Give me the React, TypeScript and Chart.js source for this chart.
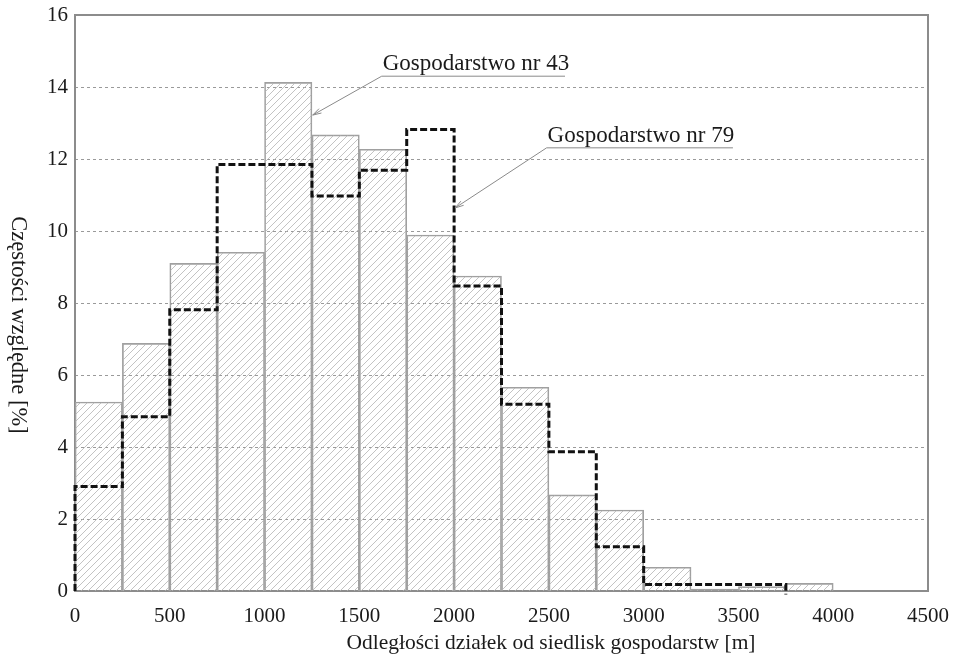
import React, { useEffect, useRef } from "react";
import { Chart, registerables } from "chart.js";

Chart.register(...registerables);

// Bin edges (m) and relative frequencies (%)
const binStarts = [0, 250, 500, 750, 1000, 1250, 1500, 1750, 2000, 2250, 2500, 2750, 3000, 3250, 3500, 3750];
const binWidth = 250;
const farm43 = [5.25, 6.88, 9.1, 9.41, 14.13, 12.67, 12.27, 9.89, 8.75, 5.66, 2.67, 2.25, 0.66, 0.05, 0.12, 0.21];
const farm79 = [2.9, 4.84, 7.81, 11.85, 11.85, 10.97, 11.69, 12.82, 8.47, 5.19, 3.87, 1.23, 0.18, 0.18, 0.18];
const yTicks = [0, 2, 4, 6, 8, 10, 12, 14, 16];
const xTicks = [0, 500, 1000, 1500, 2000, 2500, 3000, 3500, 4000, 4500];

const label43 = "Gospodarstwo nr 43";
const label79 = "Gospodarstwo nr 79";
const xTitle = "Odległości działek od siedlisk gospodarstw [m]";
const yTitle = "Częstości względne [%]";

// annotation anchors in data coordinates: [underlineStartX, underlineEndX, underlineY, arrowTipX, arrowTipY]
const ann43 = [1618, 2585, 14.3, 1254, 13.22];
const ann79 = [2488, 3471, 12.31, 2005, 10.64];

const SERIF = "'Liberation Serif', 'Times New Roman', serif";

function makeHatch(): CanvasPattern | string {
  const s = 7;
  const c = document.createElement("canvas");
  c.width = s;
  c.height = s;
  const g = c.getContext("2d");
  if (!g) return "rgba(0,0,0,0)";
  g.strokeStyle = "#b4b4b4";
  g.lineWidth = 0.8;
  g.beginPath();
  g.moveTo(-1, s + 1);
  g.lineTo(s + 1, -1);
  g.moveTo(-1, 1);
  g.lineTo(1, -1);
  g.moveTo(s - 1, s + 1);
  g.lineTo(s + 1, s - 1);
  g.stroke();
  const p = g.createPattern(c, "repeat");
  return p || "rgba(0,0,0,0)";
}

export default function App() {
  const ref = useRef<HTMLCanvasElement | null>(null);

  useEffect(() => {
    const canvas = ref.current;
    if (!canvas) return;

    const barData = binStarts.map((s, i) => ({ x: s + binWidth / 2, y: farm43[i] }));
    const lineData: { x: number; y: number }[] = [{ x: 0, y: 0 }];
    farm79.forEach((v, i) => lineData.push({ x: binStarts[i], y: v }));
    lineData.push({ x: binStarts[farm79.length], y: farm79[farm79.length - 1] });
    lineData.push({ x: binStarts[farm79.length], y: -0.1 });

    const framePlugin = {
      id: "frameAndText",
      beforeDatasetsDraw(chart: any) {
        const { ctx, chartArea: a, scales } = chart;
        ctx.save();
        ctx.strokeStyle = "#9a9a9a";
        ctx.lineWidth = 1;
        ctx.setLineDash([3, 3]);
        yTicks.forEach((t) => {
          if (t === 0 || t === 16) return;
          const y = Math.round(scales.y.getPixelForValue(t)) + 0.5;
          ctx.beginPath();
          ctx.moveTo(a.left, y);
          ctx.lineTo(a.right, y);
          ctx.stroke();
        });
        // frame
        ctx.strokeStyle = "#8c8c8c";
        ctx.lineWidth = 2;
        ctx.setLineDash([]);
        ctx.strokeRect(a.left, a.top, a.right - a.left, a.bottom - a.top);
        ctx.restore();
      },
      afterDatasetsDraw(chart: any) {
        const { ctx, scales } = chart;
        ctx.save();
        const drawAnn = (ann: number[], text: string) => {
          const x0 = scales.x.getPixelForValue(ann[0]);
          const x1 = scales.x.getPixelForValue(ann[1]);
          const y0 = scales.y.getPixelForValue(ann[2]);
          const tx = scales.x.getPixelForValue(ann[3]);
          const ty = scales.y.getPixelForValue(ann[4]);
          ctx.strokeStyle = "#8a8a8a";
          ctx.lineWidth = 1;
          ctx.beginPath();
          ctx.moveTo(x1, y0);
          ctx.lineTo(x0, y0);
          ctx.lineTo(tx, ty);
          ctx.stroke();
          const ang = Math.atan2(ty - y0, tx - x0);
          const L = 9;
          const w = 0.28;
          ctx.beginPath();
          ctx.moveTo(tx - L * Math.cos(ang - w), ty - L * Math.sin(ang - w));
          ctx.lineTo(tx, ty);
          ctx.lineTo(tx - L * Math.cos(ang + w), ty - L * Math.sin(ang + w));
          ctx.stroke();
          ctx.fillStyle = "#1a1a1a";
          ctx.font = `23px ${SERIF}`;
          ctx.textAlign = "left";
          ctx.textBaseline = "alphabetic";
          ctx.fillText(text, x0 + 1, y0 - 6);
        };
        drawAnn(ann43, label43);
        drawAnn(ann79, label79);

        // axis titles
        ctx.fillStyle = "#1a1a1a";
        ctx.font = `21.5px ${SERIF}`;
        ctx.textAlign = "center";
        ctx.textBaseline = "alphabetic";
        ctx.fillText(xTitle, 551, 649);
        ctx.save();
        ctx.font = `22.5px ${SERIF}`;
        ctx.translate(18, 325);
        ctx.rotate(Math.PI / 2);
        ctx.textBaseline = "middle";
        ctx.fillText(yTitle, 0, 0);
        ctx.restore();
        ctx.restore();
      },
    };

    const chart = new Chart(canvas, {
      type: "bar",
      data: {
        datasets: [
          {
            type: "line",
            label: label79,
            data: lineData,
            stepped: "before",
            borderColor: "#111",
            borderWidth: 3,
            borderDash: [7, 3],
            pointRadius: 0,
            fill: false,
            clip: false,
            order: 0,
          } as any,
          {
            type: "bar",
            label: label43,
            data: barData,
            backgroundColor: makeHatch() as any,
            borderColor: "#a0a0a0",
            borderWidth: 1,
            barPercentage: 1,
            categoryPercentage: 1,
            order: 1,
          } as any,
        ],
      },
      options: {
        animation: false,
        responsive: false,
        maintainAspectRatio: false,
        layout: { padding: { top: 15, right: 27, left: 0, bottom: 0 } },
        plugins: { legend: { display: false }, tooltip: { enabled: false } },
        scales: {
          x: {
            type: "linear",
            min: 0,
            max: 4500,
            offset: false,
            afterBuildTicks: (s: any) => {
              s.ticks = xTicks.map((v) => ({ value: v }));
            },
            afterFit: (s: any) => {
              s.height = 665 - 591;
              s.paddingLeft = 0;
              s.paddingRight = 0;
            },
            grid: { display: false, drawTicks: false },
            border: { display: false },
            ticks: {
              color: "#1a1a1a",
              font: { family: SERIF, size: 21 },
              padding: 13,
              maxRotation: 0,
              autoSkip: false,
              callback: (v: any) => String(v),
            },
          },
          y: {
            type: "linear",
            min: 0,
            max: 16,
            afterBuildTicks: (s: any) => {
              s.ticks = yTicks.map((v) => ({ value: v }));
            },
            afterFit: (s: any) => {
              s.width = 75;
              s.paddingTop = 0;
              s.paddingBottom = 0;
            },
            grid: { display: false, drawTicks: false },
            border: { display: false },
            ticks: {
              color: "#1a1a1a",
              font: { family: SERIF, size: 21 },
              padding: 7,
              callback: (v: any) => String(v),
            },
          },
        },
      },
      plugins: [framePlugin],
    });

    return () => chart.destroy();
  }, []);

  return (
    <div style={{ position: "fixed", left: 0, top: 0, width: 955, height: 665, background: "#fff" }}>
      <canvas ref={ref} width={955} height={665} style={{ width: 955, height: 665, display: "block" }} />
    </div>
  );
}
